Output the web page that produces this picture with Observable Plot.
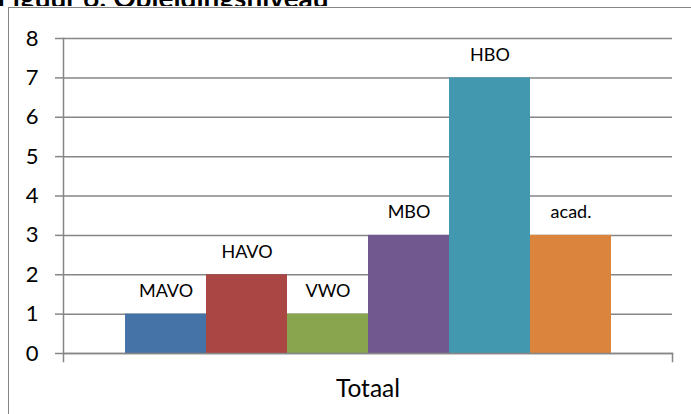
<!DOCTYPE html>
<html>
<head>
<meta charset="utf-8">
<script src="https://cdn.jsdelivr.net/npm/d3@7"></script>
<script src="https://cdn.jsdelivr.net/npm/@observablehq/plot@0.6"></script>
<style>
  html, body { margin: 0; padding: 0; background: #fff; overflow: hidden; }
  #wrap { position: relative; width: 691px; height: 414px; font-family: Lato, "Open Sans", sans-serif; }
  #titleclip { position: absolute; left: 0; top: 0; width: 691px; height: 6px; overflow: hidden; }
  #title { position: absolute; left: -3px; top: -19px; font-size: 28px; line-height: 33px; font-weight: bold; color: #000; white-space: nowrap; }
  #box { position: absolute; left: 8px; top: 7px; width: 700px; height: 420px; border-left: 1.5px solid #868686; border-top: 1.5px solid #868686; }
  #chart { position: absolute; left: 0; top: 0; }
</style>
</head>
<body>
<div id="wrap">
  <div id="titleclip"><div id="title">Figuur 6: Opleidingsniveau</div></div>
  <div id="box"></div>
  <div id="chart"></div>
</div>
<script>
const categories = ["MAVO", "HAVO", "VWO", "MBO", "HBO", "acad."];
const values = [1, 2, 1, 3, 7, 3];
const colors = ["#4572A7", "#AA4643", "#89A54E", "#71588F", "#4198AF", "#DB843D"];
const group = "Totaal";
const yTicks = [0, 1, 2, 3, 4, 5, 6, 7, 8];

const data = categories.map((c, i) => ({cat: c, value: values[i], group}));

const chart = Plot.plot({
  width: 691,
  height: 414,
  marginLeft: 63,
  marginRight: 19,
  marginTop: 38,
  marginBottom: 61,
  style: {fontFamily: "Lato, 'Open Sans', sans-serif", background: "transparent", color: "#000"},
  fx: {domain: [group], padding: 0, label: null},
  x: {domain: categories, padding: 0, insetLeft: 62, insetRight: 61, axis: null},
  y: {domain: [0, 8], label: null},
  color: {domain: categories, range: colors},
  marks: [
    Plot.ruleY(yTicks, {y: d => d, stroke: "#868686", strokeWidth: 1.5, strokeOpacity: 1}),
    Plot.barY(data, {fx: "group", x: "cat", y: "value", fill: "cat"}),
    Plot.text(data, {fx: "group", x: "cat", y: "value", text: "cat", lineAnchor: "middle", dy: -23, fontSize: 18, fill: "#000"}),
    Plot.frame({anchor: "left", stroke: "#868686", strokeWidth: 1.5, insetBottom: -8}),
    Plot.frame({anchor: "bottom", stroke: "#868686", strokeWidth: 1.5}),
    Plot.frame({anchor: "right", stroke: "#868686", strokeWidth: 1.5, insetTop: 315, insetBottom: -8}),
    Plot.axisY({ticks: yTicks, tickSize: 8, tickPadding: 17, fontSize: 22, stroke: "#868686", strokeWidth: 1.5, strokeOpacity: 1, label: null, tickFormat: d => String(d)}),
    Plot.axisFx({anchor: "bottom", tickSize: 0, tickPadding: 26, fontSize: 24.5, label: null})
  ]
});
document.getElementById("chart").appendChild(chart);
</script>
</body>
</html>
